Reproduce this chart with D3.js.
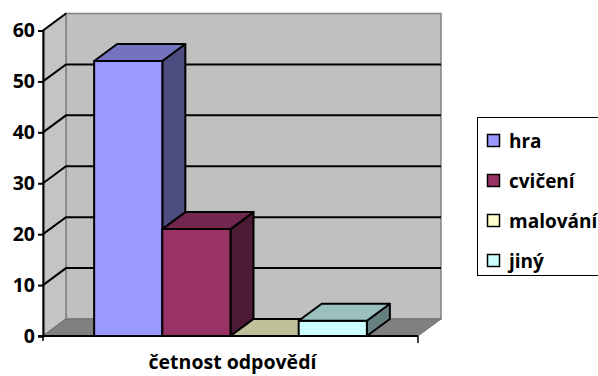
<!DOCTYPE html>
<html>
<head>
<meta charset="utf-8">
<script src="https://cdn.jsdelivr.net/npm/d3@7"></script>
<style>
  body { margin: 0; background: #fff; }
  svg { display: block; font-family: "Open Sans", "Noto Sans", sans-serif; font-weight: 700; }
</style>
</head>
<body>
<svg id="chart" width="598" height="376"></svg>
<script>
// data
const categories = ['hra', 'cvičení', 'malování', 'jiný']
const values = [54, 21, 0, 3]
const yTicks = [0, 10, 20, 30, 40, 50, 60]
const axisTitle = 'četnost odpovědí'

const frontColors = ['#9999FF', '#993366', '#FFFFCC', '#CCFFFF']
const topColors = ['#7373BF', '#732650', '#C0C09A', '#99BFBF']
const sideColors = ['#4D4D80', '#4D1A33', '#80806A', '#668080']

const svg = d3.select('#chart')

const x0 = 43, x1 = 418
const depth = { dx: 23, dy: -17 }

const y = d3.scaleLinear().domain([0, 60]).range([336, 30.5])
const x = d3.scaleBand().domain(categories).range([x0, x1]).paddingInner(0).paddingOuter(0.75)

const pts = p => p.map(d => d.join(',')).join(' ')

// back wall
svg.append('polygon')
    .attr('points', pts([[x0 + depth.dx, y(60) + depth.dy], [x1 + depth.dx, y(60) + depth.dy],
        [x1 + depth.dx, y(0) + depth.dy], [x0 + depth.dx, y(0) + depth.dy]]))
    .attr('fill', '#C0C0C0')
    .attr('stroke', '#808080')
    .attr('stroke-width', 1.5)

// left side wall
svg.append('polygon')
    .attr('points', pts([[x0, y(60)], [x0 + depth.dx, y(60) + depth.dy],
        [x0 + depth.dx, y(0) + depth.dy], [x0, y(0)]]))
    .attr('fill', '#C4C4C4')
    .attr('stroke', '#808080')
    .attr('stroke-width', 1.5)

// floor
svg.append('polygon')
    .attr('points', pts([[x0, y(0)], [x0 + depth.dx, y(0) + depth.dy],
        [x1 + depth.dx, y(0) + depth.dy], [x1, y(0)]]))
    .attr('fill', '#808080')
    .attr('stroke', '#6e6e6e')
    .attr('stroke-width', 1)

// gridlines on side and back walls
const grid = svg.append('g').attr('stroke', '#000').attr('stroke-width', 2).attr('fill', 'none')
grid.selectAll('polyline')
    .data(yTicks.slice(1, -1))
    .join('polyline')
    .attr('points', d => pts([[x0, y(d)], [x0 + depth.dx, y(d) + depth.dy], [x1 + depth.dx, y(d) + depth.dy]]))
grid.append('line')
    .attr('x1', x0).attr('y1', y(60))
    .attr('x2', x0 + depth.dx).attr('y2', y(60) + depth.dy)

// bars, left to right so the next front face covers the previous side
const bars = svg.append('g').attr('stroke', '#000').attr('stroke-width', 2).attr('stroke-linejoin', 'round')
categories.forEach((c, i) => {
    const l = x(c), r = x(c) + x.bandwidth()
    const t = y(values[i]), b = y(0)
    const g = bars.append('g')
    if (values[i] > 0) {
        g.append('polygon')
            .attr('points', pts([[r, t], [r + depth.dx, t + depth.dy], [r + depth.dx, b + depth.dy], [r, b]]))
            .attr('fill', sideColors[i])
        g.append('rect')
            .attr('x', l).attr('y', t)
            .attr('width', r - l).attr('height', b - t)
            .attr('fill', frontColors[i])
    }
    g.append('polygon')
        .attr('points', pts([[l, t], [l + depth.dx, t + depth.dy], [r + depth.dx, t + depth.dy], [r, t]]))
        .attr('fill', topColors[i])
})

// y axis
const yAxis = svg.append('g')
    .attr('transform', `translate(${x0},0)`)
    .call(d3.axisLeft(y).tickValues(yTicks).tickSize(5).tickPadding(3))
yAxis.select('.domain').attr('stroke', '#000').attr('stroke-width', 2)
yAxis.selectAll('.tick line').attr('stroke', '#000').attr('stroke-width', 2)
yAxis.selectAll('.tick text')
    .attr('font-family', '"Open Sans", sans-serif')
    .attr('font-weight', 700)
    .attr('font-size', 19.5)
    .attr('fill', '#000')

// x axis
svg.append('line')
    .attr('x1', x0 - 5).attr('y1', y(0))
    .attr('x2', x1).attr('y2', y(0))
    .attr('stroke', '#000').attr('stroke-width', 2)
svg.append('line')
    .attr('x1', x1).attr('y1', y(0))
    .attr('x2', x1).attr('y2', y(0) + 7)
    .attr('stroke', '#000').attr('stroke-width', 1.5)
svg.append('line')
    .attr('x1', x0).attr('y1', y(0))
    .attr('x2', x0).attr('y2', y(0) + 5)
    .attr('stroke', '#000').attr('stroke-width', 1.5)

svg.append('text')
    .attr('x', (x0 + x1) / 2 + 2)
    .attr('y', 369)
    .attr('text-anchor', 'middle')
    .attr('font-size', 19.5)
    .text(axisTitle)

// legend
const legend = svg.append('g')
legend.append('rect')
    .attr('x', 477.5).attr('y', 117.5)
    .attr('width', 140).attr('height', 158)
    .attr('fill', '#fff')
    .attr('stroke', '#000')
    .attr('stroke-width', 1)

const item = legend.selectAll('g.item')
    .data(categories)
    .join('g')
    .attr('class', 'item')
    .attr('transform', (d, i) => `translate(487,${141 + i * 40})`)
item.append('rect')
    .attr('x', 0.5).attr('y', -6.5)
    .attr('width', 12).attr('height', 12)
    .attr('fill', (d, i) => frontColors[i])
    .attr('stroke', '#000')
    .attr('stroke-width', 1.5)
item.append('text')
    .attr('x', 22)
    .attr('dy', '0.35em')
    .attr('font-size', 19)
    .text(d => d)
</script>
</body>
</html>
